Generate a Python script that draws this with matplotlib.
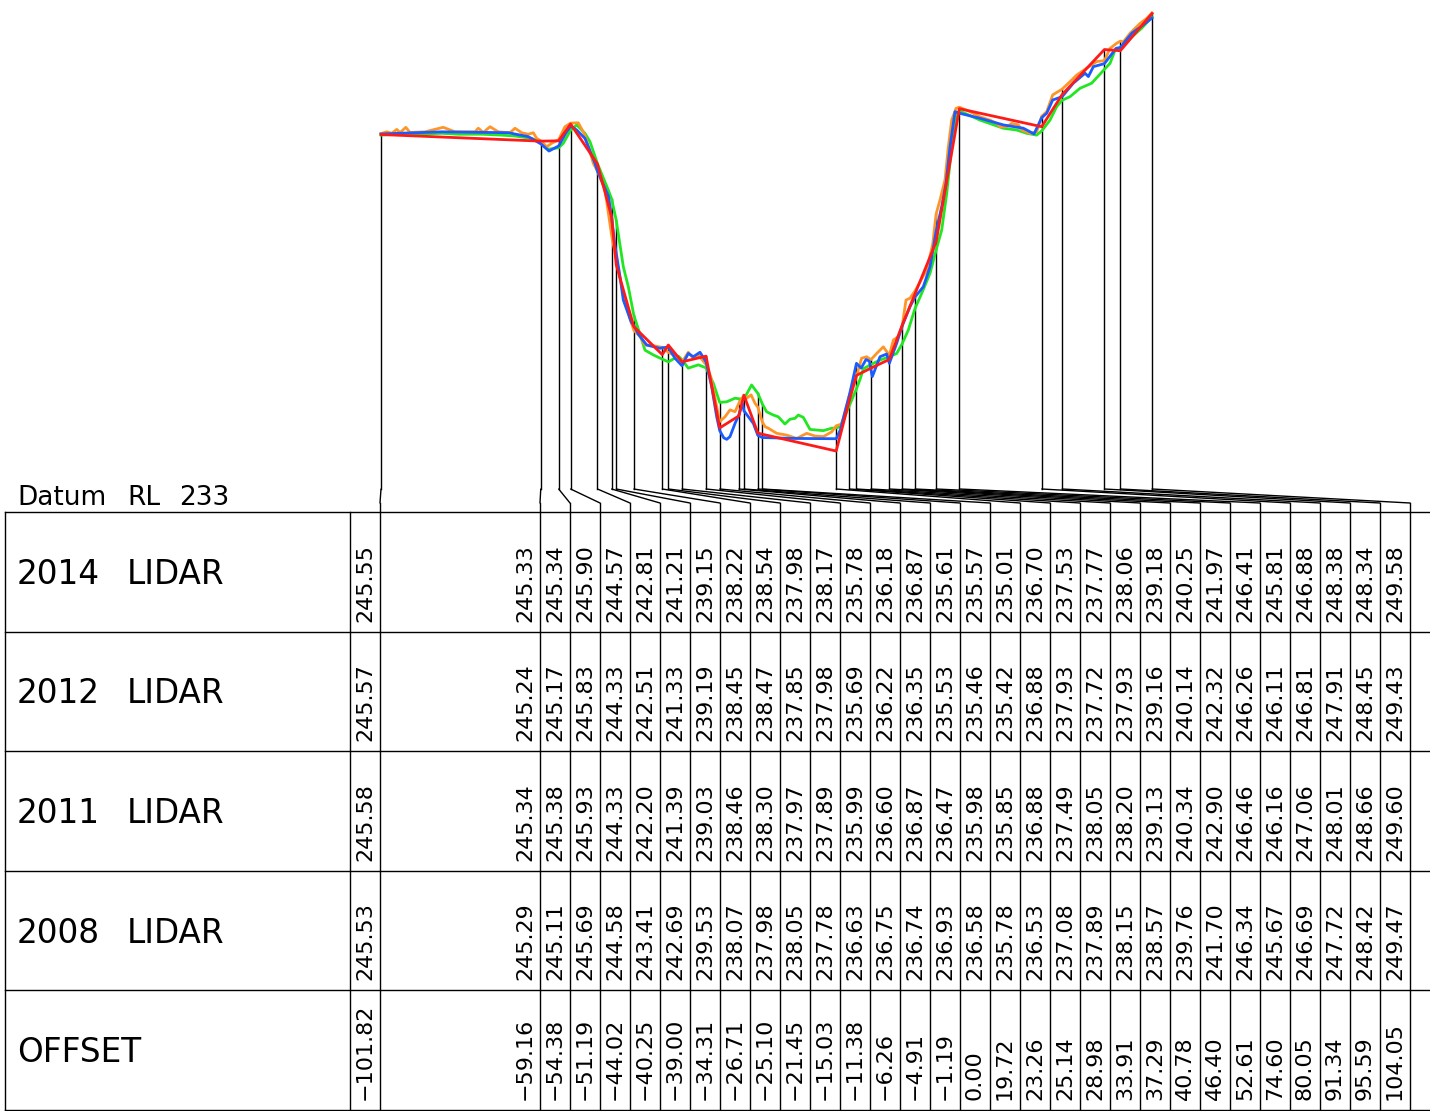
import matplotlib
matplotlib.use("Agg")
import matplotlib.pyplot as plt
from matplotlib.patches import ConnectionPatch

# table values (chainage offsets and surveyed RLs)
OFFSETS = [-101.82, -59.16, -54.38, -51.19, -44.02, -40.25, -39.00, -34.31, -26.71, -25.10,
           -21.45, -15.03, -11.38, -6.26, -4.91, -1.19, 0.00, 19.72, 23.26, 25.14,
           28.98, 33.91, 37.29, 40.78, 46.40, 52.61, 74.60, 80.05, 91.34, 95.59, 104.05]
RL_2014 = [245.55, 245.33, 245.34, 245.90, 244.57, 242.81, 241.21, 239.15, 238.22, 238.54,
           237.98, 238.17, 235.78, 236.18, 236.87, 235.61, 235.57, 235.01, 236.70, 237.53,
           237.77, 238.06, 239.18, 240.25, 241.97, 246.41, 245.81, 246.88, 248.38, 248.34, 249.58]
RL_2012 = [245.57, 245.24, 245.17, 245.83, 244.33, 242.51, 241.33, 239.19, 238.45, 238.47,
           237.85, 237.98, 235.69, 236.22, 236.35, 235.53, 235.46, 235.42, 236.88, 237.93,
           237.72, 237.93, 239.16, 240.14, 242.32, 246.26, 246.11, 246.81, 247.91, 248.45, 249.43]
RL_2011 = [245.58, 245.34, 245.38, 245.93, 244.33, 242.20, 241.39, 239.03, 238.46, 238.30,
           237.97, 237.89, 235.99, 236.60, 236.87, 236.47, 235.98, 235.85, 236.88, 237.49,
           238.05, 238.20, 239.13, 240.34, 242.90, 246.46, 246.16, 247.06, 248.01, 248.66, 249.60]
RL_2008 = [245.53, 245.29, 245.11, 245.69, 244.58, 243.41, 242.69, 239.53, 238.07, 237.98,
           238.05, 237.78, 236.63, 236.75, 236.74, 236.93, 236.58, 235.78, 236.53, 237.08,
           237.89, 238.15, 238.57, 239.76, 241.70, 246.34, 245.67, 246.69, 247.72, 248.42, 249.47]

ROW_LABELS = ["2014  LIDAR", "2012  LIDAR", "2011  LIDAR", "2008  LIDAR", "OFFSET"]
DATUM = 233

# detailed lidar profiles
P2012_OFF = [-101.82, -85.6, -67.8, -62.5, -59.16, -56.96, -54.38, -52.5, -51.19, -49.56,
             -47.35, -44.68, -44.02, -41.1, -40.25, -39.4, -38.0, -37.12, -35.0, -34.31,
             -33.1, -30.87, -27.32, -26.71, -25.10, -23.32, -21.45, -19.77, -18.43, -16.64,
             -15.03, -13.52, -12.18, -11.38, -10.3, -9.5, -8.63, -7.29, -6.26, -5.3,
             -4.91, -2.4, -1.19, 0.00, 8.27, 19.72, 20.82, 23.26, 25.14, 26.4,
             27.69, 28.6, 28.98, 29.37, 31.42, 33.2, 33.91, 35.88, 37.29, 39.44,
             40.78, 42.98, 44.78, 46.40, 47.9, 49.05, 50.12, 51.45, 52.61, 58.12,
             64.35, 69.69, 72.55, 74.60, 75.94, 77.54, 80.05, 83.04, 86.17, 87.06,
             88.4, 91.34, 94.45, 95.59, 98.63, 101.73, 104.05]
P2012_RL = [245.57, 245.64, 245.61, 245.48, 245.24, 245.00, 245.17, 245.59, 245.83, 245.70,
            245.42, 244.59, 244.33, 243.50, 242.80, 241.90, 240.82, 240.04, 239.30, 239.19,
            238.90, 238.54, 238.43, 238.45, 238.47, 238.10, 237.85, 238.26, 238.15, 238.30,
            237.98, 237.15, 236.15, 235.69, 235.45, 235.40, 235.49, 235.93, 236.22, 236.60,
            236.35, 235.93, 235.53, 235.46, 235.43, 235.42, 235.71, 236.88, 237.93, 237.77,
            238.06, 238.00, 237.72, 237.49, 238.15, 238.24, 237.93, 238.60, 239.16, 239.82,
            240.14, 240.48, 241.15, 242.32, 243.15, 243.93, 245.14, 246.31, 246.26, 246.09,
            245.87, 245.76, 245.57, 246.11, 246.26, 246.70, 246.81, 247.26, 247.59, 247.48,
            247.81, 247.91, 248.42, 248.45, 248.92, 249.20, 249.43]

P2011_OFF = [-101.82, -100.3, -98.96, -97.6, -96.75, -95.2, -94.08, -90.07, -85.2, -82.06,
             -76.72, -75.84, -74.5, -72.71, -70.5, -67.38, -66.04, -64.25, -62.49, -61.15,
             -60.24, -59.16, -57.57, -56.24, -54.38, -52.69, -51.19, -49.14, -47.35, -45.13,
             -44.02, -42.0, -40.25, -39.00, -37.55, -35.78, -34.31, -32.66, -31.33, -29.99,
             -26.71, -25.10, -22.86, -21.45, -19.77, -18.43, -17.1, -15.03, -13.78, -12.36,
             -11.38, -9.96, -8.63, -7.29, -6.26, -4.91, -4.17, -3.0, -1.95, -1.19,
             0.00, 0.73, 1.6, 3.84, 6.51, 9.18, 11.85, 14.07, 16.29, 18.53,
             19.72, 21.2, 23.26, 25.14, 26.5, 27.87, 28.98, 30.54, 32.31, 33.91,
             35.0, 36.33, 37.29, 38.37, 39.44, 40.78, 41.92, 43.89, 45.5, 46.40,
             47.44, 48.78, 49.67, 50.57, 51.72, 52.61, 55.45, 58.12, 60.79, 62.57,
             63.46, 65.25, 66.58, 68.35, 69.25, 71.48, 73.26, 74.60, 75.94, 77.54,
             80.05, 82.16, 83.95, 86.62, 89.29, 91.34, 92.85, 94.63, 95.59, 96.4,
             98.19, 100.86, 102.65, 104.05]
P2011_RL = [245.58, 245.64, 245.59, 245.72, 245.61, 245.79, 245.62, 245.64, 245.79, 245.64,
            245.64, 245.76, 245.62, 245.81, 245.64, 245.61, 245.76, 245.61, 245.56, 245.61,
            245.42, 245.34, 245.14, 245.26, 245.38, 245.81, 245.93, 245.94, 245.53, 244.59,
            244.33, 243.70, 242.20, 241.39, 240.48, 239.60, 239.03, 238.82, 238.54, 238.54,
            238.46, 238.30, 238.15, 237.97, 238.30, 238.10, 238.21, 237.89, 237.49, 236.60,
            235.99, 236.15, 236.38, 236.32, 236.60, 236.87, 236.77, 236.88, 236.60, 236.47,
            235.98, 235.82, 235.77, 235.60, 235.54, 235.43, 235.60, 235.51, 235.49, 235.65,
            235.85, 235.91, 236.88, 237.49, 238.10, 238.15, 238.05, 238.26, 238.48, 238.20,
            238.71, 238.82, 239.13, 240.04, 240.10, 240.34, 240.60, 241.04, 241.90, 242.90,
            243.37, 244.04, 245.14, 246.03, 246.42, 246.46, 246.31, 246.14, 246.03, 245.92,
            245.81, 245.81, 245.92, 245.87, 245.70, 245.59, 245.64, 246.16, 246.31, 246.87,
            247.06, 247.31, 247.53, 247.76, 247.98, 248.01, 248.42, 248.59, 248.66, 248.64,
            248.92, 249.25, 249.42, 249.60]

P2008_OFF = [-101.82, -94.5, -91.86, -85.6, -81.18, -74.94, -69.59, -66.04, -61.58, -59.16,
             -57.15, -54.38, -53.14, -51.19, -49.56, -47.35, -46.01, -44.02, -41.13, -40.25,
             -39.00, -37.12, -35.78, -34.31, -32.66, -31.33, -29.1, -26.71, -25.10, -22.43,
             -21.45, -19.77, -17.1, -15.03, -13.09, -11.38, -9.51, -7.29, -6.26, -4.91,
             -2.87, -1.19, 0.00, 1.13, 2.9, 4.27, 6.03, 7.39, 8.73, 9.6,
             10.95, 12.73, 16.29, 18.53, 19.72, 20.77, 23.26, 25.14, 26.1, 27.0,
             28.98, 31.42, 33.91, 35.88, 37.29, 38.98, 40.78, 42.55, 44.78, 46.40,
             47.9, 49.24, 50.57, 51.72, 52.61, 58.12, 64.35, 67.92, 70.6, 73.26,
             74.60, 76.82, 78.6, 80.05, 82.16, 84.83, 87.95, 91.34, 92.85, 94.18,
             95.59, 98.19, 101.3, 104.05]
P2008_RL = [245.53, 245.59, 245.56, 245.59, 245.56, 245.56, 245.53, 245.50, 245.42, 245.29,
            245.06, 245.11, 245.26, 245.69, 245.87, 245.59, 245.31, 244.58, 243.70, 243.41,
            242.69, 241.15, 240.48, 239.53, 238.90, 238.37, 238.21, 238.07, 237.98, 238.17,
            238.05, 237.77, 237.88, 237.78, 237.27, 236.63, 236.65, 236.77, 236.75, 236.74,
            237.21, 236.93, 236.58, 236.32, 236.21, 236.15, 235.91, 236.07, 236.10, 236.21,
            236.13, 235.73, 235.69, 235.77, 235.78, 235.82, 236.53, 237.08, 237.40, 237.75,
            237.89, 238.04, 238.15, 238.26, 238.57, 239.04, 239.76, 240.26, 240.93, 241.70,
            242.37, 243.59, 245.14, 246.20, 246.34, 246.03, 245.76, 245.70, 245.59, 245.53,
            245.67, 246.03, 246.48, 246.69, 246.81, 247.09, 247.26, 247.72, 247.92, 248.36,
            248.42, 248.75, 249.09, 249.47]

# sheet layout (pixels)
W, H = 1430, 1111
PROF_LEFT, PROF_RIGHT = 381, 1152
DATUM_Y = 511.4
PX_PER_M = 30.03
TOP_RL = 250
TABLE_TOP, TABLE_BOTTOM = 512, 1110
ROW_H = (TABLE_BOTTOM - TABLE_TOP) / 5
BEND1_Y, BEND2_Y = 489, 503
LW = 1.0

plt.rcParams['font.family'] = ['DejaVu Sans']

fig = plt.figure(figsize=(W / 100, H / 100), dpi=100)
ax = fig.add_axes([0, 0, 1, 1])
ax.set_xlim(0, W)
ax.set_ylim(H, 0)
ax.axis('off')

prof_h = (TOP_RL - DATUM) * PX_PER_M
axp = fig.add_axes([PROF_LEFT / W, (H - DATUM_Y) / H, (PROF_RIGHT - PROF_LEFT) / W, prof_h / H])
axp.set_xlim(OFFSETS[0], OFFSETS[-1])
axp.set_ylim(DATUM, TOP_RL)
axp.axis('off')

# profiles
axp.plot(P2008_OFF, P2008_RL, color="#22e622", lw=2.0, clip_on=False, zorder=3)
axp.plot(P2011_OFF, P2011_RL, color="#ff9526", lw=2.0, clip_on=False, zorder=4)
axp.plot(P2012_OFF, P2012_RL, color="#1a5cff", lw=2.0, clip_on=False, zorder=5)
axp.plot(OFFSETS, RL_2014, color="#ff1a1a", lw=2.0, clip_on=False, zorder=6)

# column right edges in the table
col_right = [380] + [540 + 30 * k for k in range(len(OFFSETS) - 1)]

bend_rl = DATUM + (DATUM_Y - BEND1_Y) / PX_PER_M
for i, off in enumerate(OFFSETS):
    top = max(RL_2014[i], RL_2012[i], RL_2011[i], RL_2008[i])
    axp.plot([off, off], [top, bend_rl], color="black", lw=LW, clip_on=False, zorder=2)
    con = ConnectionPatch(xyA=(off, bend_rl), coordsA=axp.transData,
                          xyB=(col_right[i], BEND2_Y), coordsB=ax.transData,
                          color="black", lw=LW)
    fig.add_artist(con)
    ax.plot([col_right[i], col_right[i]], [BEND2_Y, TABLE_BOTTOM], color="black", lw=LW)

# table frame
rows_y = [TABLE_TOP + ROW_H * k for k in range(6)]
for y in rows_y:
    ax.plot([5, W], [y, y], color="black", lw=LW)
ax.plot([5, 5], [TABLE_TOP, TABLE_BOTTOM], color="black", lw=LW)
ax.plot([350, 350], [TABLE_TOP, TABLE_BOTTOM], color="black", lw=LW)

ax.text(17, 505, "Datum", fontsize=19, va='baseline')
ax.text(127, 505, "RL", fontsize=19, va='baseline')
ax.text(179, 505, str(DATUM), fontsize=19, va='baseline')

row_values = [RL_2014, RL_2012, RL_2011, RL_2008, OFFSETS]
for r, (label, vals) in enumerate(zip(ROW_LABELS, row_values)):
    y_mid = rows_y[r] + ROW_H / 2
    words = label.split()
    ax.text(17, y_mid + 12, words[0], fontsize=23.5, va='baseline')
    if len(words) > 1:
        ax.text(127, y_mid + 12, words[1], fontsize=23.5, va='baseline')
    for i, v in enumerate(vals):
        s = f"{v:.2f}".replace("-", "\u2212")
        ax.text(col_right[i] - 15, rows_y[r + 1] - 10, s, fontsize=16, rotation=90,
                rotation_mode='anchor', ha='left', va='center')

fig.savefig("out.png", dpi=100)
